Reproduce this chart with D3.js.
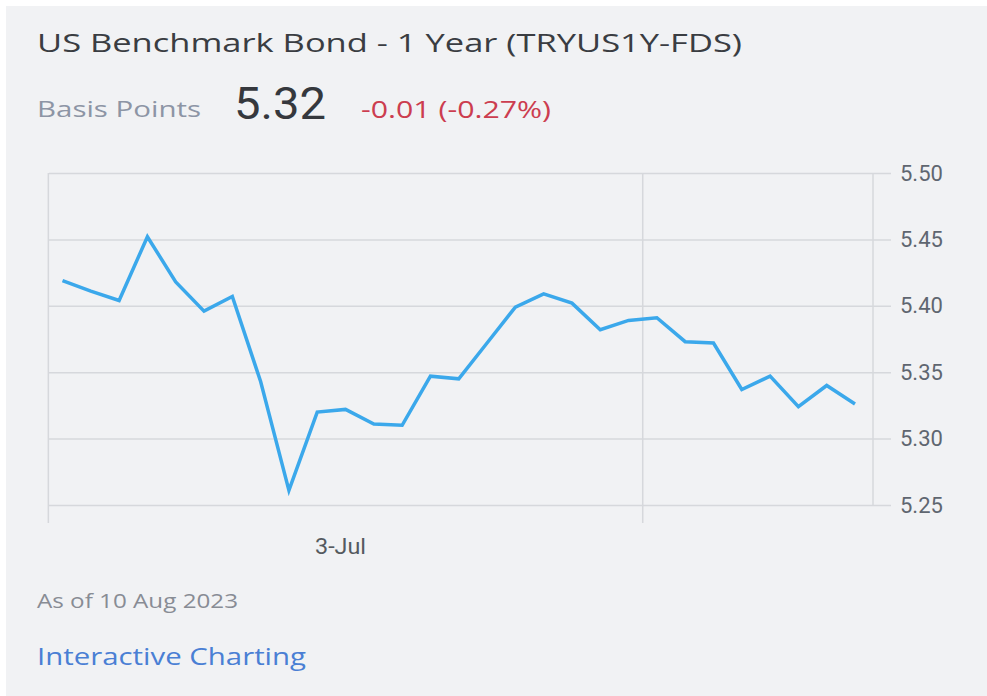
<!DOCTYPE html>
<html>
<head>
<meta charset="utf-8">
<script src="https://cdn.jsdelivr.net/npm/d3@7"></script>
<style>
  body { margin: 0; background: #fff; }
  svg { display: block; }
</style>
</head>
<body>
<div id="chart"></div>
<script>
// trading days, 3 Jul .. 10 Aug 2023
const dates = ["2023-07-03", "2023-07-04", "2023-07-05", "2023-07-06", "2023-07-07",
  "2023-07-10", "2023-07-11", "2023-07-12", "2023-07-13", "2023-07-14",
  "2023-07-17", "2023-07-18", "2023-07-19", "2023-07-20", "2023-07-21",
  "2023-07-24", "2023-07-25", "2023-07-26", "2023-07-27", "2023-07-28",
  "2023-07-31", "2023-08-01", "2023-08-02", "2023-08-03", "2023-08-04",
  "2023-08-07", "2023-08-08", "2023-08-09", "2023-08-10"];
const values = [5.419, 5.411, 5.404, 5.452, 5.418,
  5.396, 5.407, 5.343, 5.261, 5.320,
  5.322, 5.311, 5.310, 5.347, 5.345,
  5.372, 5.399, 5.409, 5.402, 5.382,
  5.389, 5.391, 5.373, 5.372, 5.337,
  5.347, 5.324, 5.340, 5.326];
const yTicks = [5.25, 5.30, 5.35, 5.40, 5.45, 5.50];
const monthLabels = ["3-Jul"];

const title = "US Benchmark Bond - 1 Year (TRYUS1Y-FDS)";
const unitLabel = "Basis Points";
const lastValue = "5.32";
const change = "-0.01 (-0.27%)";
const asOf = "As of 10 Aug 2023";
const linkText = "Interactive Charting";

const width = 987, height = 696;
const plot = { left: 49, right: 873, top: 173, bottom: 505 };

const svg = d3.select("#chart").append("svg")
  .attr("width", width)
  .attr("height", height);

svg.append("rect")
  .attr("x", 6).attr("y", 6)
  .attr("width", width - 6).attr("height", height - 6)
  .attr("fill", "#f1f2f4");

// header texts
function label(txt, x, y, size, color, len, family) {
  return svg.append("text")
    .attr("x", x).attr("y", y)
    .attr("font-family", family || "'Open Sans', sans-serif")
    .attr("font-size", size)
    .attr("fill", color)
    .attr("textLength", len)
    .attr("lengthAdjust", "spacingAndGlyphs")
    .text(txt);
}
label(title, 37, 52, 25, "#3a3d42", 705);
label(unitLabel, 37, 117, 22, "#8d95a5", 164);
label(lastValue, 234, 119, 44, "#35383d", 92, "Roboto, sans-serif");
label(change, 361, 118, 23, "#cc3d4f", 190);

const data = dates.map((d, i) => ({ i: i, date: d3.timeParse("%Y-%m-%d")(d), value: values[i] }));

const x = d3.scaleLinear().domain([0, data.length - 1]).range([62.5, 855]);
const y = d3.scaleLinear().domain([5.25, 5.50]).range([plot.bottom, plot.top]);

// horizontal grid + right tick marks
const yAxis = svg.append("g")
  .attr("transform", `translate(${plot.left},0)`)
  .call(d3.axisRight(y).tickValues(yTicks).tickFormat(d3.format(".2f"))
    .tickSize(plot.right - plot.left + 18).tickPadding(9));
yAxis.select(".domain").remove();
yAxis.selectAll("line").attr("stroke", "#d6d8dc").attr("stroke-width", 1.5);
yAxis.selectAll("text")
  .attr("font-family", "Roboto, sans-serif")
  .attr("font-size", 22)
  .attr("fill", "#5f6670");

// month boundaries
const bounds = [-0.5];
data.forEach((d, i) => {
  if (i > 0 && d.date.getMonth() !== data[i - 1].date.getMonth()) bounds.push(i - 0.5);
});
svg.selectAll("line.month")
  .data(bounds)
  .join("line")
  .attr("class", "month")
  .attr("x1", d => x(d)).attr("x2", d => x(d))
  .attr("y1", plot.top).attr("y2", plot.bottom + 18)
  .attr("stroke", "#d6d8dc").attr("stroke-width", 1.5);

svg.append("line")
  .attr("x1", plot.right).attr("x2", plot.right)
  .attr("y1", plot.top).attr("y2", plot.bottom)
  .attr("stroke", "#d6d8dc").attr("stroke-width", 1.5);

// month labels, centred in each month's section
svg.selectAll("text.month")
  .data(monthLabels)
  .join("text")
  .attr("class", "month")
  .attr("x", (d, i) => (x(bounds[i]) + x(bounds[i + 1])) / 2 - 5)
  .attr("y", 554)
  .attr("text-anchor", "middle")
  .attr("font-family", "Roboto, sans-serif")
  .attr("font-size", 22)
  .attr("fill", "#555a60")
  .attr("textLength", 51)
  .attr("lengthAdjust", "spacingAndGlyphs")
  .text(d => d);

// series
svg.append("path")
  .datum(data)
  .attr("fill", "none")
  .attr("stroke", "#3ba8eb")
  .attr("stroke-width", 3.5)
  .attr("stroke-linejoin", "miter")
  .attr("d", d3.line().x(d => x(d.i)).y(d => y(d.value)));

// footer
label(asOf, 37, 608, 20, "#888c94", 201);
label(linkText, 37, 665, 23, "#4a7fd4", 269);
</script>
</body>
</html>
